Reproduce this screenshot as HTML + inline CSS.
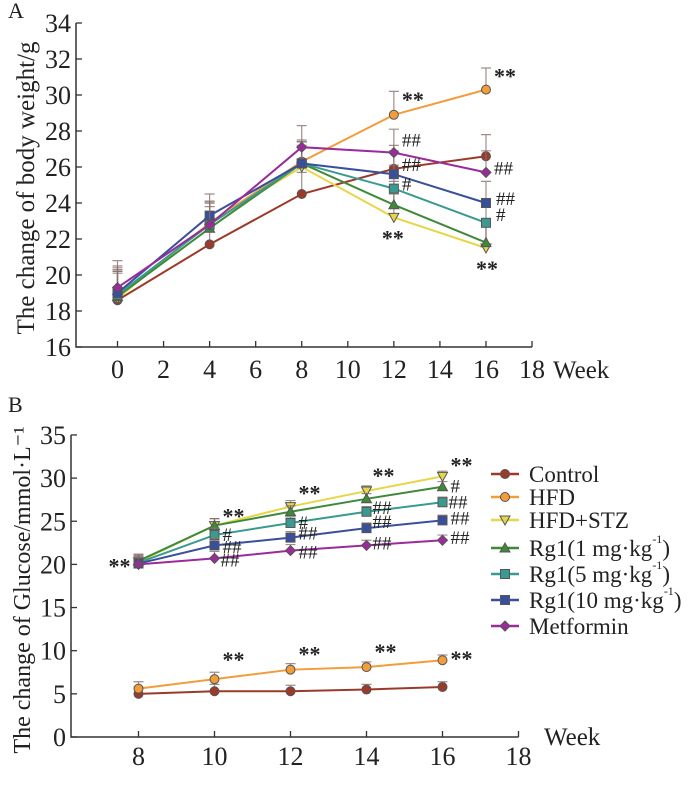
<!DOCTYPE html>
<html><head><meta charset="utf-8"><style>
body{margin:0;background:#fff}
svg{display:block;font-family:"Liberation Serif",serif}
</style></head><body>
<svg id="s" width="700" height="788"></svg>
<script>
const weeksA=[0,4,8,12,16];
const weeksB=[8,10,12,14,16];
const seriesNames=["Control","HFD","HFD+STZ","Rg1(1 mg·kg-1)","Rg1(5 mg·kg-1)","Rg1(10 mg·kg-1)","Metformin"];
const colors=["#9b3a2a","#f39c3a","#e6d64a","#3f8a3a","#3a9a90","#3a4f9a","#9b2a9a"];
const markers=["circle","circle","tdown","tup","square","square","diamond"];
const weightControl=[18.6,21.7,24.5,25.9,26.6];
const weightHFD=[18.7,22.9,26.3,28.9,30.3];
const weightSTZ=[18.7,22.9,26.0,23.2,21.5];
const weightRg1=[18.8,22.6,26.2,23.9,21.8];
const weightRg5=[18.9,22.8,26.2,24.8,22.9];
const weightRg10=[19.0,23.3,26.2,25.6,24.0];
const weightMet=[19.3,22.8,27.1,26.8,25.7];
const glucControl=[5.0,5.3,5.3,5.5,5.8];
const glucHFD=[5.6,6.7,7.8,8.1,8.9];
const glucSTZ=[20.3,24.5,26.7,28.5,30.2];
const glucRg1=[20.4,24.5,26.1,27.6,29.0];
const glucRg5=[20.2,23.4,24.8,26.1,27.2];
const glucRg10=[20.1,22.2,23.1,24.2,25.1];
const glucMet=[20.0,20.7,21.6,22.2,22.8];
const errA=[1.5,1.2,1.2,1.3,1.2];
const errB=[0.8,0.8,0.7,0.6,0.6];
const annA=[[12,28.9,"**",8,-8],[16,30.3,"**",8,-6],[12,26.8,"##",8,-6],[12,25.9,"##",8,2],[12,24.8,"#",8,2],[16,25.7,"##",8,2],[16,24.0,"##",10,2],[16,22.9,"#",10,-2],[12,23.2,"**",-12,28],[16,21.5,"**",-10,28]];
const annB=[[8,20.1,"**",-30,10],[10,24.5,"**",8,-2],[12,26.7,"**",8,-6],[14,28.5,"**",6,-8],[16,30.2,"**",8,-4],[16,29.0,"#",8,6],[16,27.2,"##",6,6],[16,25.1,"##",8,4],[16,22.8,"##",8,4],[10,23.4,"#",8,6],[10,22.2,"##",8,8],[12,24.8,"#",8,6],[12,23.1,"##",8,2],[12,21.6,"##",8,8],[14,26.1,"##",6,2],[14,24.2,"##",6,0],[14,22.2,"##",6,4],[10,20.7,"##",6,8],[10,6.7,"**",8,-12],[12,7.8,"**",8,-8],[14,8.1,"**",8,-8],[16,8.9,"**",8,6]];
const S=document.getElementById('s');const NS="http://www.w3.org/2000/svg";
function mk(t,a,p){const e=document.createElementNS(NS,t);for(const k in a)e.setAttribute(k,a[k]);(p||S).appendChild(e);return e;}
function txt(x,y,s,a,size,p){const e=mk('text',Object.assign({x:x,y:y,'font-size':size||22,fill:'#222'},a||{}),p);e.textContent=s;return e;}
function marker(g,type,x,y,c){let e;
 if(type==='circle')e=mk('circle',{cx:x,cy:y,r:4.5,fill:c,stroke:'#555','stroke-width':1},g);
 else if(type==='square')e=mk('rect',{x:x-4.5,y:y-4.5,width:9,height:9,fill:c,stroke:'#555','stroke-width':1},g);
 else if(type==='tup')e=mk('polygon',{points:`${x},${y-5} ${x+5},${y+4} ${x-5},${y+4}`,fill:c,stroke:'#555','stroke-width':1},g);
 else if(type==='tdown')e=mk('polygon',{points:`${x},${y+5} ${x+5},${y-4} ${x-5},${y-4}`,fill:c,stroke:'#555','stroke-width':1},g);
 else e=mk('polygon',{points:`${x},${y-5} ${x+5},${y} ${x},${y+5} ${x-5},${y}`,fill:c,stroke:'#555','stroke-width':1},g);
 return e;}
function panel(cfg){
 const g=mk('g',{});
 const X=v=>cfg.x0+(v-cfg.xmin)*cfg.px;const Y=v=>cfg.yb-(v-cfg.ymin)*cfg.py;
 const ax=mk('path',{d:`M${cfg.axX},${Y(cfg.ymax)}V${cfg.yb}H${X(18)}`,stroke:'#333','stroke-width':1.5,fill:'none'},g);
 
 for(const t of cfg.yticks){mk('line',{x1:cfg.axX,x2:cfg.axX+6,y1:Y(t),y2:Y(t),stroke:'#333','stroke-width':1.3},g);
  const l=txt(cfg.axX-5,Y(t)+9,String(t),{'text-anchor':'end'},26,g);}
 for(const t of cfg.xticks){mk('line',{x1:X(t),x2:X(t),y1:cfg.yb,y2:cfg.yb-6,stroke:'#333','stroke-width':1.3},g);
  const l=txt(X(t),cfg.xl,String(t),{'text-anchor':'middle'},26,g);}
 const w=txt(cfg.wx,cfg.wy,"Week",{},25,g);
 const yt=txt(0,0,cfg.ytitle,{'text-anchor':'middle',transform:`translate(${cfg.ytx},${cfg.yty}) rotate(-90)`},cfg.yts,g);
 
 const lt=txt(cfg.lx,cfg.ly,cfg.letter,{},22,g);
 cfg.series.forEach((vals,i)=>{
  const sg=mk('g',{},g);
  vals.forEach((v,j)=>{const x=X(cfg.xs[j]);const e=cfg.err[j];
   mk('path',{d:`M${x},${Y(v)}V${Y(v+e)}M${x-5},${Y(v+e)}H${x+5}`,stroke:'#8a7070','stroke-width':1.2,opacity:0.8},sg);});
  mk('polyline',{points:vals.map((v,j)=>X(cfg.xs[j])+','+Y(v)).join(' '),fill:'none',stroke:colors[i],'stroke-width':2},sg);
  vals.forEach((v,j)=>{const m=marker(sg,markers[i],X(cfg.xs[j]),Y(v),colors[i]);});
 });
 cfg.ann.forEach(a=>{const t=txt(X(a[0])+a[3],Y(a[1])+a[4],a[2],{'font-weight':a[2][0]=='*'?'bold':'normal'},a[2][0]=='*'?22:19,g);});
 return g;}
panel({name:'panel-a-body-weight',xmin:0,x0:117.5,px:23.03,ymin:16,ymax:34,yb:347,py:18,axX:76,
 yticks:[16,18,20,22,24,26,28,30,32,34],xticks:[0,2,4,6,8,10,12,14,16,18],xl:378,wx:553,wy:378,
 ytitle:"The change of body weight/g",ytx:34,yty:188,yts:25,letter:"A",lx:8,ly:18,
 xs:weeksA,err:errA,series:[weightControl,weightHFD,weightSTZ,weightRg1,weightRg5,weightRg10,weightMet],ann:annA});
panel({name:'panel-b-glucose',xmin:8,x0:138.5,px:38,ymin:0,ymax:35,yb:737,py:8.63,axX:71,
 yticks:[0,5,10,15,20,25,30,35],xticks:[8,10,12,14,16,18],xl:765,wx:544,wy:745,
 ytitle:"The change of Glucose/mmol·L⁻¹",ytx:30,yty:590,yts:24,letter:"B",lx:8,ly:412,
 xs:weeksB,err:errB,series:[glucControl,glucHFD,glucSTZ,glucRg1,glucRg5,glucRg10,glucMet],ann:annB});
const leg=mk('g',{});
const ly=[474,497,520,548,574,600,626];
const labs=[["Control"],["HFD"],["HFD+STZ"],["Rg1(1 mg·kg","-1",")"],["Rg1(5 mg·kg","-1",")"],["Rg1(10 mg·kg","-1",")"],["Metformin"]];
labs.forEach((l,i)=>{const e=mk('g',{},leg);
 mk('line',{x1:491,x2:519,y1:ly[i],y2:ly[i],stroke:colors[i],'stroke-width':2.5},e);marker(e,markers[i],505,ly[i],colors[i]);
 const t=txt(529,ly[i]+8,l[0],{},23,e);
 if(l.length>1){const a=mk('tspan',{dy:-13,'font-size':12},t);a.textContent=l[1];const b=mk('tspan',{dy:13,'font-size':23},t);b.textContent=l[2];}});
</script>
</body></html>
